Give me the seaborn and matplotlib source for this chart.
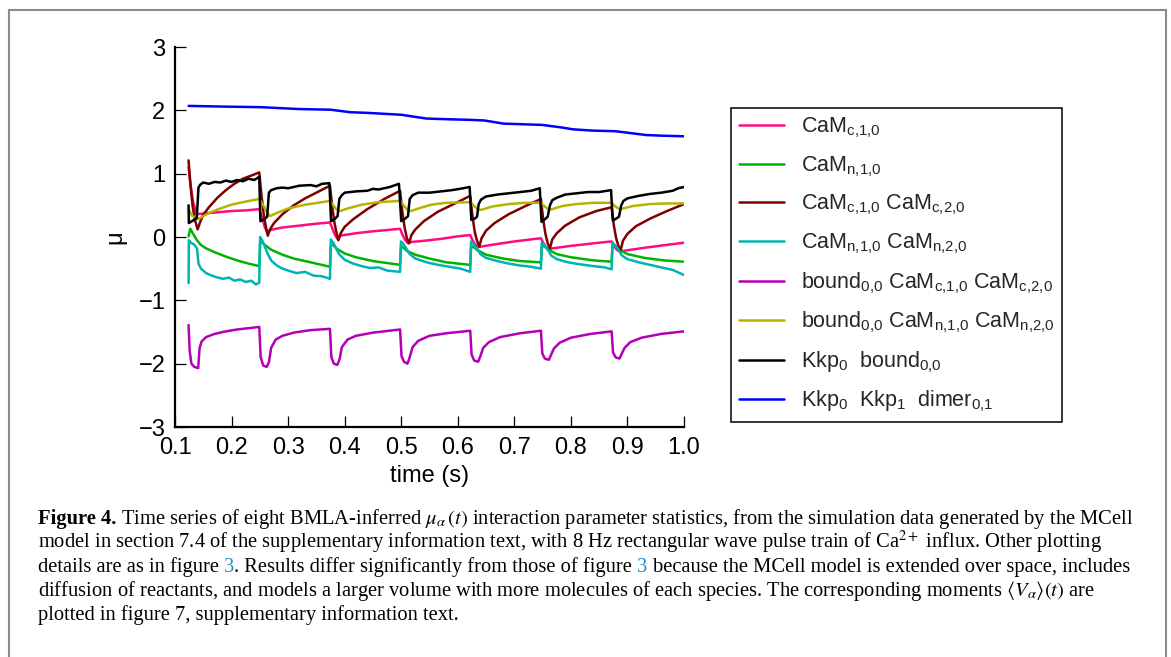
import numpy as np
import pandas as pd
import matplotlib
matplotlib.use("Agg")
import matplotlib.pyplot as plt
from matplotlib.lines import Line2D
from matplotlib.patches import Rectangle
import seaborn as sns

# ---------------------------------------------------------------- data
labels = [
    r"CaM$_{\mathrm{c{,}1{,}0}}$",
    r"CaM$_{\mathrm{n{,}1{,}0}}$",
    r"CaM$_{\mathrm{c{,}1{,}0}}$ CaM$_{\mathrm{c{,}2{,}0}}$",
    r"CaM$_{\mathrm{n{,}1{,}0}}$ CaM$_{\mathrm{n{,}2{,}0}}$",
    r"bound$_{\mathrm{0{,}0}}$ CaM$_{\mathrm{c{,}1{,}0}}$ CaM$_{\mathrm{c{,}2{,}0}}$",
    r"bound$_{\mathrm{0{,}0}}$ CaM$_{\mathrm{n{,}1{,}0}}$ CaM$_{\mathrm{n{,}2{,}0}}$",
    r"Kkp$_{\mathrm{0}}$  bound$_{\mathrm{0{,}0}}$",
    r"Kkp$_{\mathrm{0}}$  Kkp$_{\mathrm{1}}$  dimer$_{\mathrm{0{,}1}}$",
]
colors = ["#ff0a80", "#00b400", "#800000", "#00b4b4",
          "#b400b4", "#b4b400", "#000000", "#0000ff"]

# CaM_c,1,0
t_cam_c = [0.124, 0.128, 0.132, 0.1385, 0.150, 0.175, 0.200, 0.225, 0.249,
           0.254, 0.259, 0.264, 0.268, 0.290, 0.320, 0.350, 0.374,
           0.378, 0.383, 0.388, 0.392, 0.420, 0.450, 0.475, 0.498,
           0.502, 0.507, 0.512, 0.516, 0.540, 0.570, 0.600, 0.622,
           0.626, 0.631, 0.637, 0.642, 0.670, 0.700, 0.747,
           0.751, 0.756, 0.762, 0.767, 0.800, 0.840, 0.872,
           0.876, 0.881, 0.886, 0.892, 0.930, 0.965, 1.000]
mu_cam_c = [1.10, 0.80, 0.55, 0.36, 0.37, 0.39, 0.41, 0.42, 0.44,
            0.30, 0.15, 0.06, 0.11, 0.15, 0.18, 0.21, 0.23,
            0.14, 0.03, -0.04, 0.02, 0.06, 0.09, 0.11, 0.13,
            0.04, -0.05, -0.10, -0.08, -0.06, -0.03, 0.01, 0.03,
            -0.05, -0.12, -0.16, -0.15, -0.11, -0.07, -0.02,
            -0.09, -0.16, -0.19, -0.18, -0.14, -0.10, -0.07,
            -0.13, -0.20, -0.23, -0.22, -0.17, -0.13, -0.09]

# CaM_n,1,0
t_cam_n = [0.124, 0.127, 0.132, 0.138, 0.145, 0.155, 0.170, 0.190, 0.210, 0.230, 0.249,
           0.2505, 0.253, 0.258, 0.270, 0.290, 0.310, 0.340, 0.374,
           0.3755, 0.379, 0.385, 0.400, 0.420, 0.450, 0.498,
           0.4995, 0.503, 0.510, 0.525, 0.550, 0.580, 0.622,
           0.6235, 0.627, 0.635, 0.650, 0.680, 0.710, 0.747,
           0.7485, 0.752, 0.760, 0.775, 0.800, 0.840, 0.872,
           0.8735, 0.877, 0.885, 0.900, 0.930, 0.965, 1.000]
mu_cam_n = [0.01, 0.13, 0.05, -0.04, -0.12, -0.18, -0.24, -0.31, -0.37, -0.42, -0.46,
            -0.10, -0.07, -0.12, -0.20, -0.28, -0.34, -0.40, -0.47,
            -0.14, -0.12, -0.18, -0.26, -0.32, -0.38, -0.44,
            -0.18, -0.16, -0.22, -0.28, -0.34, -0.40, -0.44,
            -0.17, -0.15, -0.21, -0.28, -0.34, -0.38, -0.40,
            -0.16, -0.14, -0.20, -0.27, -0.32, -0.37, -0.39,
            -0.15, -0.13, -0.20, -0.27, -0.33, -0.37, -0.39]

# CaM_c,1,0 CaM_c,2,0
t_cam_cc = [0.124, 0.127, 0.131, 0.135, 0.140, 0.145, 0.150, 0.160, 0.175, 0.190, 0.205, 0.220, 0.235, 0.249,
            0.253, 0.257, 0.261, 0.264, 0.268, 0.275, 0.290, 0.310, 0.330, 0.350, 0.374,
            0.378, 0.382, 0.386, 0.389, 0.393, 0.400, 0.415, 0.440, 0.470, 0.498,
            0.502, 0.506, 0.510, 0.514, 0.518, 0.525, 0.540, 0.565, 0.595, 0.622,
            0.626, 0.630, 0.634, 0.638, 0.642, 0.650, 0.665, 0.690, 0.720, 0.747,
            0.751, 0.755, 0.759, 0.763, 0.767, 0.775, 0.790, 0.815, 0.845, 0.872,
            0.876, 0.880, 0.884, 0.888, 0.892, 0.900, 0.915, 0.940, 0.970, 1.000]
mu_cam_cc = [1.21, 0.85, 0.50, 0.28, 0.12, 0.25, 0.35, 0.47, 0.62, 0.74, 0.84, 0.92, 0.97, 1.02,
             0.65, 0.35, 0.15, 0.02, 0.12, 0.22, 0.36, 0.50, 0.61, 0.70, 0.81,
             0.48, 0.22, 0.05, -0.05, 0.06, 0.16, 0.28, 0.44, 0.60, 0.73,
             0.40, 0.15, -0.02, -0.10, 0.03, 0.12, 0.25, 0.40, 0.53, 0.65,
             0.33, 0.08, -0.06, -0.15, -0.02, 0.10, 0.22, 0.36, 0.49, 0.60,
             0.28, 0.05, -0.10, -0.18, -0.04, 0.06, 0.18, 0.31, 0.41, 0.47,
             0.18, -0.02, -0.14, -0.21, -0.06, 0.05, 0.17, 0.29, 0.41, 0.52]

# CaM_n,1,0 CaM_n,2,0
t_cam_nn = [0.124, 0.1245, 0.128, 0.134, 0.139, 0.1415, 0.146, 0.155, 0.165, 0.175, 0.185, 0.195,
            0.205, 0.215, 0.225, 0.235, 0.243, 0.249,
            0.2505, 0.254, 0.258, 0.263, 0.270, 0.280, 0.290, 0.300, 0.315, 0.330, 0.345, 0.360, 0.374,
            0.3755, 0.379, 0.384, 0.390, 0.400, 0.415, 0.430, 0.445, 0.460, 0.475, 0.498,
            0.4995, 0.503, 0.508, 0.515, 0.525, 0.545, 0.565, 0.585, 0.605, 0.622,
            0.6235, 0.627, 0.632, 0.640, 0.650, 0.670, 0.690, 0.710, 0.730, 0.747,
            0.7485, 0.752, 0.757, 0.765, 0.775, 0.795, 0.815, 0.840, 0.860, 0.872,
            0.8735, 0.877, 0.882, 0.890, 0.900, 0.920, 0.940, 0.960, 0.980, 1.000]
mu_cam_nn = [-0.73, -0.05, -0.09, -0.12, -0.18, -0.42, -0.50, -0.57, -0.61, -0.64, -0.66, -0.64,
             -0.69, -0.67, -0.71, -0.69, -0.75, -0.72,
             0.00, -0.05, -0.13, -0.25, -0.37, -0.45, -0.50, -0.53, -0.57, -0.55, -0.61, -0.62, -0.66,
             -0.04, -0.08, -0.16, -0.27, -0.36, -0.42, -0.46, -0.49, -0.48, -0.53, -0.55,
             -0.07, -0.10, -0.17, -0.27, -0.34, -0.40, -0.44, -0.47, -0.50, -0.55,
             -0.07, -0.10, -0.16, -0.27, -0.33, -0.38, -0.42, -0.45, -0.47, -0.50,
             -0.09, -0.12, -0.17, -0.29, -0.35, -0.40, -0.43, -0.46, -0.48, -0.51,
             -0.09, -0.12, -0.17, -0.29, -0.35, -0.40, -0.44, -0.48, -0.52, -0.60]

# bound_0,0 CaM_c,1,0 CaM_c,2,0
t_bound_c = [0.124, 0.126, 0.129, 0.134, 0.141, 0.1435, 0.147, 0.155, 0.170, 0.190, 0.210, 0.230, 0.249,
             0.2515, 0.256, 0.262, 0.266, 0.270, 0.278, 0.290, 0.310, 0.340, 0.374,
             0.3765, 0.381, 0.387, 0.391, 0.395, 0.405, 0.420, 0.450, 0.498,
             0.5005, 0.505, 0.511, 0.515, 0.520, 0.530, 0.550, 0.580, 0.622,
             0.6245, 0.629, 0.636, 0.640, 0.645, 0.655, 0.675, 0.710, 0.747,
             0.7495, 0.754, 0.761, 0.765, 0.770, 0.780, 0.800, 0.835, 0.872,
             0.8745, 0.879, 0.886, 0.890, 0.895, 0.905, 0.925, 0.960, 1.000]
mu_bound_c = [-1.39, -1.80, -2.00, -2.05, -2.07, -1.75, -1.65, -1.58, -1.53, -1.49, -1.46, -1.44, -1.42,
              -1.90, -2.03, -2.05, -1.98, -1.75, -1.62, -1.56, -1.51, -1.47, -1.45,
              -1.90, -2.00, -2.02, -1.93, -1.74, -1.62, -1.56, -1.51, -1.46,
              -1.88, -1.97, -2.00, -1.90, -1.74, -1.64, -1.56, -1.52, -1.48,
              -1.86, -1.95, -1.97, -1.88, -1.75, -1.66, -1.58, -1.52, -1.48,
              -1.84, -1.92, -1.94, -1.86, -1.76, -1.67, -1.59, -1.53, -1.49,
              -1.82, -1.90, -1.92, -1.84, -1.75, -1.66, -1.59, -1.53, -1.49]

# bound_0,0 CaM_n,1,0 CaM_n,2,0
t_bound_n = [0.124, 0.130, 0.140, 0.150, 0.160, 0.180, 0.200, 0.225, 0.249,
             0.256, 0.262, 0.268, 0.280, 0.300, 0.330, 0.360, 0.374,
             0.380, 0.386, 0.392, 0.405, 0.430, 0.460, 0.498,
             0.505, 0.512, 0.518, 0.530, 0.553, 0.580, 0.622,
             0.629, 0.636, 0.642, 0.660, 0.690, 0.720, 0.747,
             0.754, 0.761, 0.767, 0.785, 0.810, 0.840, 0.872,
             0.879, 0.886, 0.892, 0.910, 0.940, 0.970, 1.000]
mu_bound_n = [0.44, 0.34, 0.28, 0.33, 0.38, 0.45, 0.51, 0.56, 0.60,
              0.50, 0.40, 0.33, 0.38, 0.45, 0.51, 0.55, 0.57,
              0.50, 0.43, 0.41, 0.45, 0.51, 0.55, 0.57,
              0.49, 0.42, 0.41, 0.45, 0.51, 0.54, 0.55,
              0.49, 0.43, 0.43, 0.48, 0.52, 0.54, 0.54,
              0.48, 0.43, 0.44, 0.49, 0.52, 0.54, 0.54,
              0.48, 0.44, 0.45, 0.49, 0.52, 0.53, 0.53]

# Kkp_0 bound_0,0
t_kkp_b = [0.124, 0.1245, 0.130, 0.1385, 0.1415, 0.145, 0.150, 0.160, 0.170, 0.180, 0.190, 0.200,
           0.210, 0.220, 0.230, 0.240, 0.249,
           0.251, 0.258, 0.263, 0.266, 0.270, 0.280, 0.290, 0.300, 0.320, 0.340, 0.350, 0.360, 0.373,
           0.376, 0.383, 0.3875, 0.3905, 0.395, 0.400, 0.420, 0.440, 0.450, 0.460, 0.480, 0.496,
           0.500, 0.507, 0.512, 0.515, 0.520, 0.530, 0.550, 0.570, 0.590, 0.610, 0.621,
           0.624, 0.630, 0.634, 0.637, 0.641, 0.650, 0.670, 0.690, 0.710, 0.730, 0.745,
           0.748, 0.754, 0.759, 0.763, 0.767, 0.775, 0.790, 0.810, 0.830, 0.850, 0.871,
           0.874, 0.880, 0.885, 0.889, 0.893, 0.900, 0.920, 0.940, 0.960, 0.980, 0.990, 1.000]
mu_kkp_b = [0.50, 0.22, 0.25, 0.30, 0.78, 0.83, 0.86, 0.84, 0.87, 0.86, 0.89, 0.87,
            0.90, 0.88, 0.92, 0.90, 0.95,
            0.25, 0.28, 0.32, 0.70, 0.74, 0.77, 0.78, 0.77, 0.81, 0.82, 0.80, 0.84, 0.85,
            0.25, 0.29, 0.33, 0.60, 0.66, 0.70, 0.72, 0.73, 0.76, 0.75, 0.79, 0.84,
            0.25, 0.29, 0.33, 0.60, 0.66, 0.70, 0.70, 0.72, 0.74, 0.77, 0.79,
            0.27, 0.29, 0.32, 0.52, 0.59, 0.64, 0.67, 0.69, 0.71, 0.73, 0.77,
            0.24, 0.28, 0.32, 0.50, 0.58, 0.62, 0.67, 0.69, 0.71, 0.71, 0.74,
            0.26, 0.29, 0.32, 0.50, 0.57, 0.61, 0.65, 0.68, 0.70, 0.73, 0.77, 0.79]

# Kkp_0 Kkp_1 dimer_0,1
t_dimer = [0.124, 0.180, 0.252, 0.320, 0.375, 0.410, 0.440, 0.500, 0.545, 0.580, 0.620, 0.647,
           0.681, 0.715, 0.749, 0.783, 0.804, 0.838, 0.879, 0.906, 0.933, 0.960, 1.000]
mu_dimer = [2.07, 2.06, 2.05, 2.02, 2.01, 1.97, 1.96, 1.93, 1.87, 1.86, 1.85, 1.84,
            1.79, 1.78, 1.77, 1.73, 1.70, 1.68, 1.67, 1.64, 1.61, 1.60, 1.59]

series_t = [t_cam_c, t_cam_n, t_cam_cc, t_cam_nn, t_bound_c, t_bound_n, t_kkp_b, t_dimer]
series_mu = [mu_cam_c, mu_cam_n, mu_cam_cc, mu_cam_nn, mu_bound_c, mu_bound_n, mu_kkp_b, mu_dimer]

x_ticks = [0.1, 0.2, 0.3, 0.4, 0.5, 0.6, 0.7, 0.8, 0.9, 1.0]
y_ticks = [-3, -2, -1, 0, 1, 2, 3]

caption_lines = [
    [("Figure 4.", "bold", True),
     (r"Time series of eight BMLA-inferred $\mu_{\alpha}\,(t)$ interaction parameter statistics, "
      r"from the simulation data generated by the MCell", "plain", False)],
    [(r"model in section 7.4 of the supplementary information text, with 8 Hz rectangular wave "
      r"pulse train of Ca$^{2+}$ influx. Other plotting", "plain", False)],
    [("details are as in figure", "plain", True), ("3", "link", False),
     (". Results differ significantly from those of figure", "plain", True), ("3", "link", True),
     ("because the MCell model is extended over space, includes", "plain", False)],
    [(r"diffusion of reactants, and models a larger volume with more molecules of each species. "
      r"The corresponding moments $\langle V_{\alpha}\rangle(t)$ are", "plain", False)],
    [("plotted in figure 7, supplementary information text.", "plain", False)],
]

# ---------------------------------------------------------------- style
sns.set_theme(style="white")
plt.rcParams["font.family"] = ["Liberation Sans", "DejaVu Sans"]
plt.rcParams["mathtext.fontset"] = "custom"
plt.rcParams["mathtext.rm"] = "Liberation Sans"
plt.rcParams["mathtext.it"] = "Liberation Sans:italic"
plt.rcParams["mathtext.bf"] = "Liberation Sans:bold"

W, H = 1171, 657
fig = plt.figure(figsize=(W / 100, H / 100), dpi=100)
fig.patch.set_facecolor("white")

# outer grey frame
fig.patches.append(Rectangle((9 / W, -0.05), (1166 - 9) / W, 1 - 10 / H + 0.05,
                             transform=fig.transFigure, fill=False,
                             edgecolor="#8a8a8a", linewidth=1.5, zorder=0))

ax = fig.add_axes([175 / W, 1 - 427 / H, 509 / W, 380 / H])

frames = []
for lab, tt, mm in zip(labels, series_t, series_mu):
    frames.append(pd.DataFrame({"time": tt, "mu": mm, "species": lab}))
df = pd.concat(frames, ignore_index=True)

sns.lineplot(data=df, x="time", y="mu", hue="species", hue_order=labels,
             palette=colors, estimator=None, sort=False, linewidth=1.8,
             legend=False, ax=ax)

ax.set_xlim(0.1, 1.0)
ax.set_ylim(-3, 3)
ax.set_xticks(x_ticks)
ax.set_xticklabels([f"{v:.1f}" for v in x_ticks])
ax.set_yticks(y_ticks)
ax.set_yticklabels([f"{v:d}".replace("-", "\u2212") for v in y_ticks])
sns.despine(ax=ax)
for side in ("left", "bottom"):
    ax.spines[side].set_linewidth(1.6)
    ax.spines[side].set_color("black")
ax.tick_params(direction="in", length=8, width=0.9, colors="black",
               labelsize=17, pad=7, left=True, bottom=True)
ax.set_xlabel("time (s)", fontsize=17, color="black")
ax.set_ylabel("\u03bc", fontsize=17, color="black")
ax.xaxis.set_label_coords(0.5, -0.10)
ax.yaxis.set_label_coords(-0.095, 0.5)

handles = [Line2D([], [], color=c, linewidth=1.8) for c in colors]
leg = fig.legend(handles, labels, loc="upper left",
                 bbox_to_anchor=(731 / W, 1 - 108 / H), bbox_transform=fig.transFigure,
                 borderaxespad=0, fontsize=15.5, handlelength=2.1, handletextpad=0.78,
                 labelspacing=0.655, borderpad=0.36, frameon=True, fancybox=False)
leg.get_frame().set_edgecolor("black")
leg.get_frame().set_linewidth(1.1)
leg.get_frame().set_alpha(1)

# ---------------------------------------------------------------- caption
renderer = fig.canvas.get_renderer()
serif = ["Liberation Serif", "DejaVu Serif"]
styles = {
    "plain": dict(color="black"),
    "bold": dict(color="black", fontweight="bold"),
    "link": dict(color="#2a8cc4"),
}


def draw_parts(parts, x_px, y_px, size):
    x = x_px
    made = []
    space = 0.25 * size * 100 / 72
    for text, kind, gap in parts:
        t = fig.text(x / W, 1 - y_px / H, text, fontsize=size, family=serif,
                     math_fontfamily="stix", ha="left", va="baseline", **styles[kind])
        made.append(t)
        bb = t.get_window_extent(renderer)
        x = bb.x1 + (space if gap else 0)
    return made, x - x_px


# scale the caption so that the first line fills the text block width
probe, width = draw_parts(caption_lines[0], 38, 524, 12)
for t in probe:
    t.remove()
cap_size = 12 * (1131 - 38) / width

for i, parts in enumerate(caption_lines):
    draw_parts(parts, 38, 524 + 24 * i, cap_size)

fig.savefig("out.png", dpi=100, facecolor="white")
